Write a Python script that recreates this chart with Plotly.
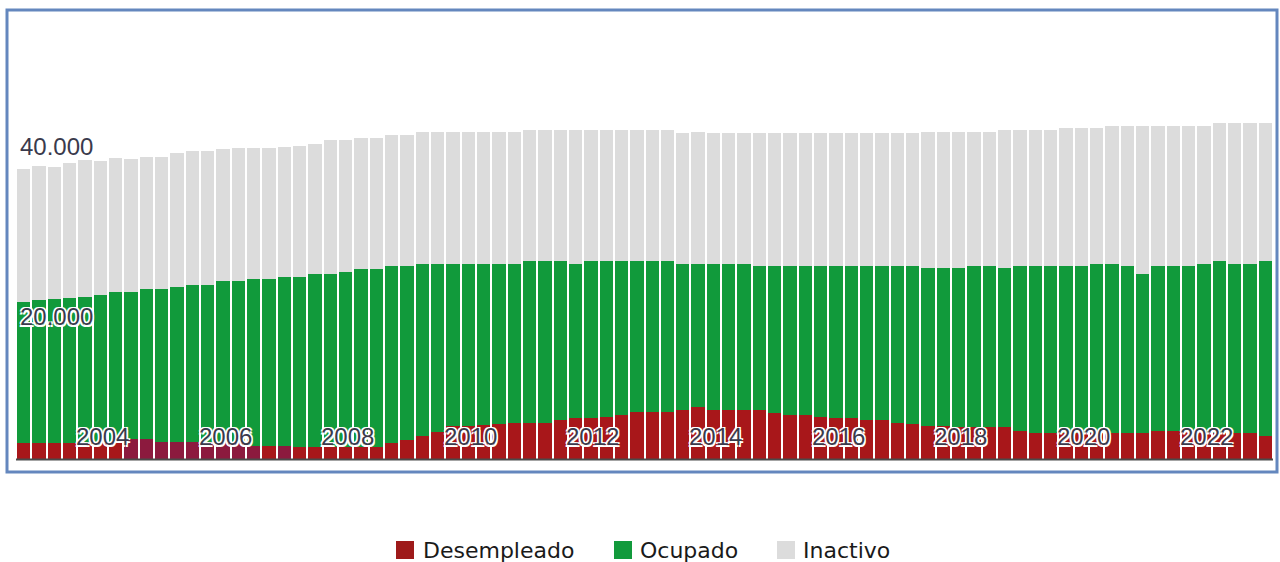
import plotly.graph_objects as go

# Quarterly series, 2002T1 .. 2022T2 (thousands of people)
quarters = [f"{2002 + i // 4}T{i % 4 + 1}" for i in range(82)]

desempleado = [
    1840, 1840, 1840, 1840, 1870, 1870, 1990, 2340, 2340, 1950,
    1950, 1950, 1950, 1950, 1950, 1560, 1580, 1560, 1440, 1440,
    1440, 1400, 1420, 1440, 1930, 2280, 2690, 3140, 3860, 3920,
    3980, 4100, 4180, 4180, 4180, 4560, 4800, 4740, 4910, 5150,
    5530, 5530, 5530, 5730, 6120, 5730, 5730, 5730, 5730, 5350,
    5150, 5150, 4950, 4760, 4760, 4560, 4560, 4180, 4040, 3900,
    3860, 3740, 3740, 3740, 3710, 3310, 3010, 3010, 3010, 3010,
    3010, 3010, 3010, 3010, 3330, 3330, 3280, 3160, 3040, 3010,
    3010, 2690,
]

ocupado = [
    16570, 16770, 16850, 17040, 17120, 17320, 17590, 17230, 17550, 17940,
    18210, 18440, 18440, 18840, 18840, 19540, 19520, 19770, 19890, 20170,
    20170, 20510, 20840, 20830, 20650, 20300, 20090, 19680, 18950, 18900,
    18840, 18720, 18640, 19020, 19020, 18640, 18020, 18460, 18290, 18050,
    17670, 17670, 17670, 17080, 16700, 17080, 17080, 17080, 16850, 17230,
    17430, 17430, 17630, 17820, 17820, 18020, 18020, 18400, 18540, 18420,
    18450, 18570, 18840, 18840, 18600, 19270, 19570, 19570, 19570, 19570,
    19810, 19810, 19570, 18600, 19250, 19250, 19310, 19660, 20160, 19810,
    19810, 20510,
]

inactivo = [
    15530, 15710, 15510, 15720, 15960, 15710, 15610, 15530, 15480, 15480,
    15610, 15680, 15680, 15480, 15560, 15260, 15260, 15210, 15290, 15300,
    15710, 15410, 15330, 15330, 15330, 15330, 15440, 15410, 15410, 15410,
    15410, 15410, 15410, 15290, 15290, 15290, 15680, 15290, 15290, 15290,
    15290, 15290, 15290, 15390, 15390, 15390, 15390, 15390, 15620, 15620,
    15620, 15620, 15620, 15620, 15620, 15620, 15620, 15620, 15620, 15890,
    15910, 15910, 15640, 15640, 16180, 15910, 15910, 15910, 16180, 16180,
    15950, 16180, 16420, 17390, 16420, 16420, 16420, 16180, 16150, 16530,
    16530, 16150,
]

year_labels = ["2004", "2006", "2008", "2010", "2012", "2014", "2016", "2018", "2020", "2022"]
value_labels = ["40.000", "20.000"]
series_names = ["Desempleado", "Ocupado", "Inactivo"]

RED = "#A8171A"
RED_DARK = "#8C1A3E"
GREEN = "#119A3B"
GREY = "#DCDCDC"

# unemployed bars 2003T4..2005T4 and 2006T2 appear in a darker maroon tone
red_colors = [RED_DARK if (7 <= i <= 15 or i == 17) else RED for i in range(82)]

fig = go.Figure()
fig.add_trace(go.Bar(x=quarters, y=desempleado, name=series_names[0],
                     marker=dict(color=red_colors, line=dict(width=0))))
fig.add_trace(go.Bar(x=quarters, y=ocupado, name=series_names[1],
                     marker=dict(color=GREEN, line=dict(width=0))))
fig.add_trace(go.Bar(x=quarters, y=inactivo, name=series_names[2],
                     marker=dict(color=GREY, line=dict(width=0))))

W, H = 1280, 562
L, R, T, B = 16, 1273, 12, 459  # plot area in pixels


def px_x(px):
    return (px - L) / (R - L)


def px_y(py):
    return (B - py) / (B - T)


fig.update_layout(
    width=W, height=H,
    barmode="stack", bargap=0.13,
    showlegend=False,
    plot_bgcolor="white", paper_bgcolor="white",
    margin=dict(l=L, r=W - R, t=T, b=H - B, pad=0),
    xaxis=dict(type="category", range=[-0.5, 81.5], showticklabels=False,
               showgrid=False, zeroline=False, showline=False, ticks=""),
    yaxis=dict(range=[0, (B - T) * 117], showticklabels=False,
               showgrid=False, zeroline=False, showline=False, ticks=""),
)

label_font = dict(family="Liberation Sans, Arial, sans-serif",
                  size=24, color="#3A3A4C",
                  shadow="white 1.5px 1.5px 0px, white -1.5px -1.5px 0px, white 1.5px -1.5px 0px, white -1.5px 1.5px 0px")

annotations = []
for k, lab in enumerate(year_labels):
    annotations.append(dict(x=5.14 + 8 * k, y=px_y(436), xref="x", yref="paper",
                            text=lab, showarrow=False, font=label_font,
                            xanchor="center", yanchor="middle"))
for lab, py in zip(value_labels, [146, 316]):
    annotations.append(dict(x=px_x(18), y=px_y(py), xref="paper", yref="paper",
                            text=lab, showarrow=False, font=label_font,
                            xanchor="left", yanchor="middle"))

# legend (custom, to match swatch size and spacing)
legend_items = [(series_names[0], "#9E1A1A", 396, 421),
                (series_names[1], "#129A3C", 614, 638),
                (series_names[2], "#DCDCDC", 777, 801)]
shapes = []
for name, col, sx, tx in legend_items:
    shapes.append(dict(type="rect", xref="paper", yref="paper",
                       x0=px_x(sx), x1=px_x(sx + 18), y0=px_y(541), y1=px_y(559),
                       fillcolor=col, line=dict(width=0)))
    annotations.append(dict(x=px_x(tx), y=px_y(550), xref="paper", yref="paper",
                            text=name, showarrow=False, xanchor="left", yanchor="middle",
                            font=dict(family="Verdana, DejaVu Sans", size=22, color="#1A1A1A")))

# baseline
shapes.append(dict(type="line", xref="paper", yref="paper",
                   x0=0, x1=1, y0=px_y(459.5), y1=px_y(459.5),
                   line=dict(color="#4A4A4A", width=2)))
# outer frame of the pasted chart
shapes.append(dict(type="rect", xref="paper", yref="paper",
                   x0=px_x(7), x1=px_x(1277), y0=px_y(472), y1=px_y(10),
                   line=dict(color="#6487BE", width=3), fillcolor="rgba(0,0,0,0)",
                   layer="above"))

fig.update_layout(annotations=annotations, shapes=shapes)
fig.write_html("out.html", config={"displayModeBar": False})

# remove the browser's default 8px body margin so the figure sits at the page origin
with open("out.html", "r", encoding="utf-8") as f:
    html = f.read()
html = html.replace("<head>", "<head><style>html,body{margin:0;padding:0;overflow:hidden;}</style>", 1)
with open("out.html", "w", encoding="utf-8") as f:
    f.write(html)
